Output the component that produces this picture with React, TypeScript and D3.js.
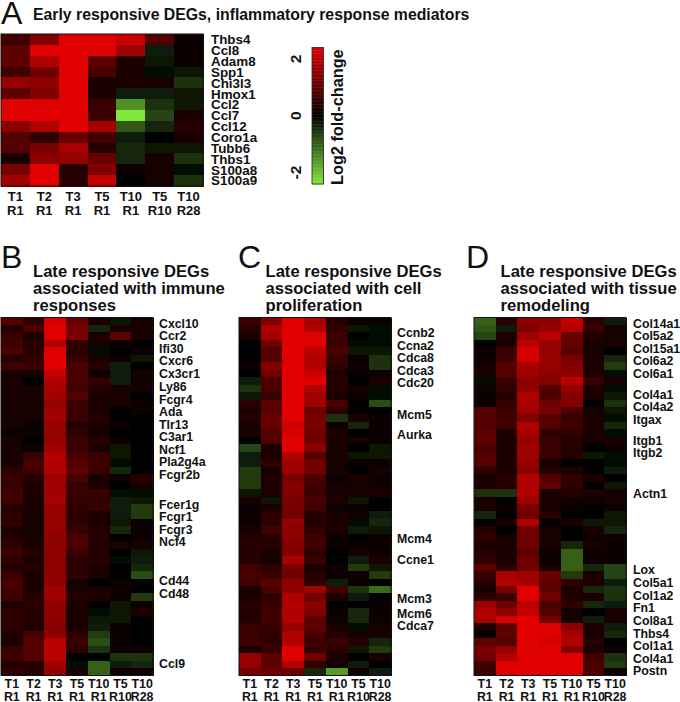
import React from "react";
import * as d3 from "d3";

const colTop = ["T1", "T2", "T3", "T5", "T10", "T5", "T10"];
const colBottom = ["R1", "R1", "R1", "R1", "R1", "R10", "R28"];

const genesA = ["Thbs4","Ccl8","Adam8","Spp1","Chi3l3","Hmox1","Ccl2","Ccl7","Ccl12","Coro1a","Tubb6","Thbs1","S100a8","S100a9"];
const valuesA = [
[0.7,1.4,2.5,2.5,2.2,0.9,0.1],
[1.0,2.4,2.5,2.5,1.7,-0.3,0.1],
[1.0,1.9,2.5,1.0,0.3,-0.2,0.1],
[0.7,1.2,2.5,0.8,0.3,-0.1,-0.2],
[1.6,1.5,2.5,0.2,0.3,0.2,-0.5],
[1.0,1.4,2.5,0.3,-0.3,-0.3,-0.2],
[2.5,2.5,2.5,0.6,-1.5,-0.5,-0.2],
[2.5,2.5,2.5,0.6,-2.4,-0.7,0.2],
[1.5,1.9,2.5,1.8,-0.9,-0.4,0.4],
[0.9,0.5,1.1,0.7,-0.3,0.05,0.3],
[0.9,1.3,1.8,0.4,-0.4,-0.2,-0.2],
[0.3,1.5,1.6,1.1,-0.4,0.2,-0.5],
[1.3,2.5,0.4,1.4,0.1,0.2,-0.1],
[1.7,2.5,0.4,2.1,0.0,0.2,-0.5],
];

const genesB = ["Cxcl10","Ccr2","Ifi30","Cxcr6","Cx3cr1","Ly86","Fcgr4","Ada","Tlr13","C3ar1","Ncf1","Pla2g4a","Fcgr2b","Fcer1g","Fcgr1","Fcgr3","Ncf4","Cd44","Cd48","Ccl9"];
const labelRowsB = [0.78,2.48,4.2,5.8,7.5,9.2,10.95,12.6,14.3,16.0,17.7,19.35,21.05,25.05,26.75,28.4,30.1,35.25,36.95,46.4];
const valuesB = [
[0.9,0.5,2.3,1.1,0.3,-0.2,0.2],
[0.4,0.8,2.4,1.3,-0.4,0.2,0.2],
[0.6,0.3,2.4,1.3,0.3,1.0,0.3],
[0.7,0.4,1.9,0.5,0.2,0.1,0.0],
[0.8,0.4,2.4,0.5,-0.1,0.05,0.1],
[0.4,0.5,2.4,0.6,0.2,0.1,-0.2],
[0.7,0.6,2.4,0.8,0.4,-0.3,0.0],
[0.2,0.2,2.1,0.8,0.1,-0.3,0.2],
[0.2,0.0,1.9,0.8,0.5,-0.3,0.1],
[0.2,0.2,1.8,0.7,0.4,0.2,0.2],
[0.2,0.2,1.7,0.9,0.2,0.2,0.05],
[0.2,0.2,1.6,0.7,0.3,0.2,0.1],
[0.2,0.2,1.7,0.6,0.3,0.05,0.1],
[0.2,0.2,1.7,0.6,0.4,0.05,0.0],
[0.2,0.1,1.6,0.4,0.2,0.1,-0.05],
[0.1,0.1,1.6,0.5,0.2,0.05,0.05],
[0.2,0.05,1.6,0.6,0.4,0.1,0.0],
[0.2,0.1,1.7,0.6,0.3,-0.2,0.0],
[0.2,0.6,1.9,0.8,0.6,-0.2,0.0],
[0.2,0.8,1.9,0.9,0.7,-0.1,0.0],
[0.5,0.7,1.9,1.0,0.6,-0.4,0.0],
[0.6,0.4,1.7,0.8,0.3,0.1,0.4],
[0.6,0.3,1.7,0.6,0.3,0.05,0.3],
[0.7,0.3,1.7,0.6,0.6,-0.1,-0.1],
[0.7,0.3,1.8,0.5,0.5,-0.3,-0.2],
[0.4,0.3,1.6,0.5,0.6,-0.3,-0.6],
[0.5,0.2,1.6,0.5,0.3,-0.3,-0.6],
[0.5,0.2,1.6,0.5,0.3,-0.2,0.1],
[0.3,0.2,1.6,0.6,0.4,-0.4,0.1],
[0.4,0.2,1.5,0.8,0.4,0.0,0.1],
[0.5,0.3,1.5,0.8,0.4,0.2,0.2],
[0.6,0.4,1.5,0.6,0.4,-0.05,-0.2],
[0.5,0.3,1.5,0.5,0.4,-0.1,-0.3],
[0.4,0.4,1.5,0.5,0.3,0.05,-0.4],
[0.6,0.3,1.5,0.5,0.2,0.05,-0.8],
[0.8,0.3,1.5,0.2,0.0,0.1,-0.05],
[0.7,0.3,1.7,0.2,0.2,0.1,0.0],
[0.7,0.4,1.7,0.4,0.3,0.1,-0.6],
[0.3,0.5,1.5,0.3,0.0,-0.2,0.1],
[0.5,0.4,1.5,0.2,-0.1,-0.2,0.3],
[0.5,0.4,1.5,0.3,-0.2,-0.2,0.0],
[0.5,0.3,1.4,0.3,-0.3,0.1,-0.05],
[0.3,0.8,1.5,0.5,-0.6,0.1,-0.05],
[0.3,0.9,2.0,0.6,-0.8,0.1,0.05],
[0.6,0.9,2.0,0.5,-0.5,0.1,0.1],
[0.7,0.9,2.0,0.0,0.0,-0.5,-0.5],
[0.4,0.4,1.7,-0.1,-1.0,-0.3,-0.4],
[0.5,0.4,1.6,0.3,-1.0,0.1,0.1],
];

const genesC = ["Ccnb2","Ccna2","Cdca8","Cdca3","Cdc20","Mcm5","Aurka","Mcm4","Ccne1","Mcm3","Mcm6","Cdca7"];
const labelRowsC = [2.0,3.7,5.4,7.05,8.75,13.05,15.75,29.65,32.4,37.7,39.65,41.3];
const valuesC = [
[0.6,1.4,2.5,1.8,0.4,0.1,0.1],
[0.4,1.9,2.5,1.9,0.5,-0.2,-0.1],
[0.3,1.8,2.5,2.4,0.6,0.0,-0.1],
[0.05,1.2,2.5,2.4,0.6,-0.1,-0.1],
[0.05,0.9,2.5,2.0,0.8,-0.2,-0.2],
[0.05,0.9,2.5,1.9,0.6,0.15,-0.5],
[0.1,1.4,2.5,1.9,0.5,0.15,-0.5],
[0.0,1.2,2.5,2.2,0.3,0.15,0.1],
[-0.3,0.8,2.5,2.4,0.4,0.05,0.3],
[-0.5,0.8,2.5,1.9,0.4,0.2,-0.1],
[-0.2,0.6,2.5,1.7,0.3,0.1,-0.1],
[0.5,1.0,2.5,1.7,0.8,0.05,-0.8],
[0.3,1.0,2.5,1.2,0.5,0.05,-0.05],
[0.4,1.1,2.5,1.3,-0.5,0.3,0.1],
[0.2,1.1,2.2,1.3,0.1,-0.4,0.1],
[0.2,0.9,2.3,1.2,0.3,0.0,0.1],
[0.0,0.9,2.5,1.2,0.3,0.2,0.1],
[-0.7,0.3,2.5,1.5,0.2,0.0,-0.2],
[-0.3,0.3,1.9,0.9,0.2,-0.2,-0.2],
[-0.3,0.5,1.7,1.2,0.2,0.1,0.1],
[-0.6,0.2,1.7,1.2,0.2,0.05,0.2],
[-0.6,0.3,1.3,0.8,0.1,0.3,0.1],
[-0.6,0.3,1.4,0.7,0.2,0.2,0.1],
[-0.2,0.3,1.4,0.6,0.2,0.2,0.3],
[0.3,-0.2,1.3,0.8,0.3,-0.2,0.0],
[0.1,0.3,1.3,0.7,0.1,0.1,0.0],
[0.1,0.5,1.2,0.4,0.2,0.1,-0.3],
[0.1,0.5,1.6,0.4,0.3,-0.1,-0.4],
[0.2,0.7,1.5,0.5,0.3,-0.3,-0.2],
[0.4,0.4,1.5,0.7,0.1,0.05,0.1],
[0.4,0.4,1.4,0.7,0.1,0.1,0.1],
[0.4,0.3,1.4,0.5,0.0,0.2,0.1],
[0.4,0.2,1.8,0.6,-0.05,-0.3,0.3],
[0.7,0.5,1.3,0.3,0.1,-0.6,-0.2],
[0.8,0.6,1.2,0.4,0.1,0.1,-0.6],
[0.7,1.0,1.5,0.5,-0.3,0.1,0.0],
[0.3,0.8,1.5,1.7,0.7,-0.5,-1.1],
[0.2,0.5,1.9,1.2,0.3,-0.3,0.05],
[0.4,0.6,1.9,1.5,0.05,0.0,0.1],
[0.4,0.7,1.9,1.4,0.1,-0.4,0.1],
[0.4,0.7,1.9,1.0,0.1,-0.4,0.1],
[0.6,0.6,1.6,1.0,0.2,-0.1,0.2],
[0.6,0.5,1.9,0.8,0.4,0.2,0.2],
[0.7,0.5,1.9,0.7,0.6,0.4,-0.4],
[0.3,0.6,2.5,0.6,0.5,-0.2,-0.6],
[1.6,1.0,2.5,1.2,0.3,0.0,0.2],
[1.6,1.0,1.9,0.5,0.2,-0.3,-0.05],
[1.3,1.2,1.1,-0.4,-1.6,0.1,-0.3],
];

const genesD = ["Col14a1","Col5a2","Col15a1","Col6a2","Col6a1","Col4a1","Col4a2","Itgax","Itgb1","Itgb2","Actn1","Lox","Col5a1","Col1a2","Fn1","Col8a1","Thbs4","Col1a1","Col4a1","Postn"];
const labelRowsD = [0.75,2.48,4.2,5.8,7.55,10.3,12.0,13.75,16.45,18.1,23.6,33.85,35.55,37.25,38.95,40.65,42.35,44.0,45.7,47.4];
const valuesD = [
[-1.0,0.4,1.5,1.5,2.1,0.5,-0.3],
[-0.9,-0.3,1.4,1.6,1.9,0.6,0.2],
[-0.7,0.3,1.7,2.0,1.1,0.4,0.2],
[0.0,0.2,2.0,1.6,1.1,0.2,0.2],
[0.1,0.6,2.3,1.6,0.9,0.2,-0.05],
[0.1,0.7,2.3,1.6,1.3,0.3,-0.4],
[0.2,0.9,1.8,1.6,1.4,0.3,-0.6],
[0.2,0.9,1.7,1.5,1.5,0.3,-0.1],
[-0.1,0.6,1.5,1.4,2.0,0.6,0.2],
[0.1,0.5,1.5,0.9,1.6,0.3,-0.1],
[0.1,0.4,1.9,0.8,1.4,0.2,-0.2],
[0.1,0.5,1.8,1.2,1.4,0.0,-0.5],
[0.9,0.7,1.7,1.3,0.8,0.2,-0.2],
[0.9,0.7,1.4,0.9,0.6,0.2,-0.1],
[0.9,0.7,1.9,0.9,0.7,0.3,-0.4],
[1.0,0.3,1.8,0.5,0.5,0.3,-0.1],
[1.0,0.3,1.6,0.6,0.4,0.2,0.2],
[0.8,0.3,1.7,0.6,0.4,-0.05,0.1],
[0.9,0.2,1.7,0.6,0.4,-0.2,-0.1],
[0.9,0.3,1.6,0.2,0.05,0.05,-0.1],
[0.5,0.3,1.5,0.4,0.3,0.05,-0.3],
[0.2,0.4,1.9,0.9,0.5,0.3,0.05],
[0.3,0.4,1.9,1.0,0.5,0.05,-0.2],
[-0.5,-0.5,1.9,0.3,0.4,0.3,0.2],
[0.2,0.05,1.7,0.3,0.1,0.1,0.2],
[0.3,0.1,1.3,0.3,0.1,0.05,0.1],
[-0.4,0.05,1.2,0.4,0.05,0.05,-0.2],
[-0.05,0.2,1.9,0.0,0.3,-0.2,-0.2],
[0.4,0.05,1.2,0.2,0.05,0.2,-0.4],
[0.5,0.2,1.2,0.2,-0.05,0.1,0.1],
[0.3,0.2,1.2,0.2,-0.4,0.2,0.1],
[0.4,0.3,1.0,0.1,-1.0,0.15,0.1],
[0.5,0.3,1.2,0.1,-1.0,0.1,0.1],
[1.0,0.5,1.2,0.3,-1.0,-0.4,-0.7],
[0.6,1.8,1.7,1.1,-0.6,0.3,-0.7],
[0.4,1.9,1.8,1.0,0.5,0.3,-0.3],
[0.3,1.3,2.5,1.0,0.3,-0.4,-0.5],
[0.5,0.6,2.5,1.2,0.3,0.3,-0.5],
[1.7,1.2,2.0,0.8,0.5,-0.4,-0.3],
[1.9,1.5,2.1,0.9,0.2,0.05,0.2],
[1.8,2.3,2.5,1.2,0.2,-0.3,0.2],
[0.3,1.0,2.5,2.5,1.5,0.3,-0.3],
[0.0,1.0,2.5,2.5,1.8,0.3,-0.4],
[1.0,0.9,2.5,2.3,1.9,0.4,0.05],
[1.3,1.6,2.5,2.5,1.4,0.3,0.1],
[1.2,1.9,2.5,2.5,2.5,0.7,-0.5],
[0.7,2.4,2.5,2.5,2.5,0.8,-0.6],
[0.6,2.5,2.5,2.5,2.5,0.8,0.1],
];

const legendTicks = [2, 0, -2];
const FONT = "'Liberation Sans', Arial, sans-serif";

const color = d3
  .scaleLinear<string>()
  .domain([-2.4, 0, 2.4])
  .range(["#80e83c", "#000000", "#e00000"])
  .clamp(true);

type HeatProps = {
  values: number[][];
  genes: string[];
  labelRows?: number[];
  x0: number; x1: number; y0: number; y1: number;
  labelX: number; geneSize: number;
  topY: number; botY: number; colSize: number;
};

function Heatmap({ values, genes, labelRows, x0, x1, y0, y1, labelX, geneSize, topY, botY, colSize }: HeatProps) {
  const xs = d3.scaleBand<number>().domain(d3.range(7)).range([x0, x1]);
  const ys = d3.scaleBand<number>().domain(d3.range(values.length)).range([y0, y1]);
  const rowPos = d3.scaleLinear().domain([0, values.length]).range([y0, y1]);
  return (
    <g>
      <g filter="url(#soft)" shapeRendering="crispEdges">
        {values.map((row, r) =>
          row.map((v, c) => (
            <rect key={`${r}-${c}`} x={xs(c)} y={ys(r)} width={xs.bandwidth() + 0.5} height={ys.bandwidth() + 0.5} fill={color(v)} />
          ))
        )}
      </g>
      <rect x={x0} y={y0} width={x1 - x0} height={y1 - y0} fill="none" stroke="#111" strokeWidth={1} />
      {genes.map((g, i) => (
        <text key={i} x={labelX} y={labelRows ? rowPos(labelRows[i]) : ys(i)! + ys.bandwidth() / 2} dy="0.36em" fontSize={geneSize} fontWeight="bold" fill="#111">{g}</text>
      ))}
      {colTop.map((t, i) => (
        <text key={i} x={xs(i)! + xs.bandwidth() / 2} y={topY} textAnchor="middle" fontSize={colSize} fontWeight="bold" fill="#111">{t}</text>
      ))}
      {colBottom.map((t, i) => (
        <text key={i} x={xs(i)! + xs.bandwidth() / 2} y={botY} textAnchor="middle" fontSize={colSize} fontWeight="bold" fill="#111">{t}</text>
      ))}
    </g>
  );
}

function Legend() {
  const y = d3.scaleLinear().domain([-2.4, 2.4]).range([184, 47.5]);
  const steps = d3.range(-2.4, 2.4, 0.05);
  return (
    <g>
      {steps.map((v, i) => (
        <rect key={i} x={312} y={y(v + 0.05)} width={11.5} height={y(v) - y(v + 0.05) + 0.4} fill={color(v + 0.025)} />
      ))}
      <rect x={312} y={47.5} width={11.5} height={136.5} fill="none" stroke="#222" strokeWidth={0.8} />
      {legendTicks.map((t) => (
        <text key={t} transform={`translate(301,${y(t)}) rotate(-90)`} textAnchor="middle" fontSize={15.5} fontWeight="bold" fill="#111">{t}</text>
      ))}
      <text transform={`translate(342.5,185) rotate(-90)`} fontSize={16.3} fontWeight="bold" fill="#111">Log2 fold-change</text>
    </g>
  );
}

const panelLetter = (s: string, x: number, y: number) => (
  <text x={x} y={y} fontSize={32} fill="#111">{s}</text>
);
const titleLines = (lines: string[], x: number) =>
  lines.map((l, i) => (
    <text key={i} x={x} y={277 + i * 17} fontSize={16.6} fontWeight="bold" fill="#111">{l}</text>
  ));

export default function App() {
  return (
    <svg width={680} height={702} style={{ position: "absolute", left: 0, top: 0, fontFamily: FONT, background: "#fff" }}>
      <defs>
        <filter id="soft" x="-2%" y="-2%" width="104%" height="104%">
          <feGaussianBlur stdDeviation="0.6" />
        </filter>
      </defs>
      {panelLetter("A", 1, 24)}
      <text x={33} y={20} fontSize={15.8} fontWeight="bold" fill="#111">Early responsive DEGs, inflammatory response mediators</text>
      <Heatmap values={valuesA} genes={genesA} x0={1} x1={203} y0={34} y1={186} labelX={211} geneSize={13.4} topY={201} botY={215} colSize={13} />
      <Legend />

      {panelLetter("B", 1, 268)}
      {titleLines(["Late responsive DEGs", "associated with immune", "responses"], 33)}
      <Heatmap values={valuesB} genes={genesB} labelRows={labelRowsB} x0={1} x1={153} y0={317.5} y1={675.5} labelX={159} geneSize={12.3} topY={688} botY={700.5} colSize={12.4} />

      {panelLetter("C", 238, 268)}
      {titleLines(["Late responsive DEGs", "associated with cell", "proliferation"], 265.5)}
      <Heatmap values={valuesC} genes={genesC} labelRows={labelRowsC} x0={239} x1={391} y0={317.5} y1={675.5} labelX={397} geneSize={12.3} topY={688} botY={700.5} colSize={12.4} />

      {panelLetter("D", 466, 268)}
      {titleLines(["Late responsive DEGs", "associated with tissue", "remodeling"], 500.5)}
      <Heatmap values={valuesD} genes={genesD} labelRows={labelRowsD} x0={474} x1={626} y0={317.5} y1={675.5} labelX={633} geneSize={12.3} topY={688} botY={700.5} colSize={12.4} />
    </svg>
  );
}
